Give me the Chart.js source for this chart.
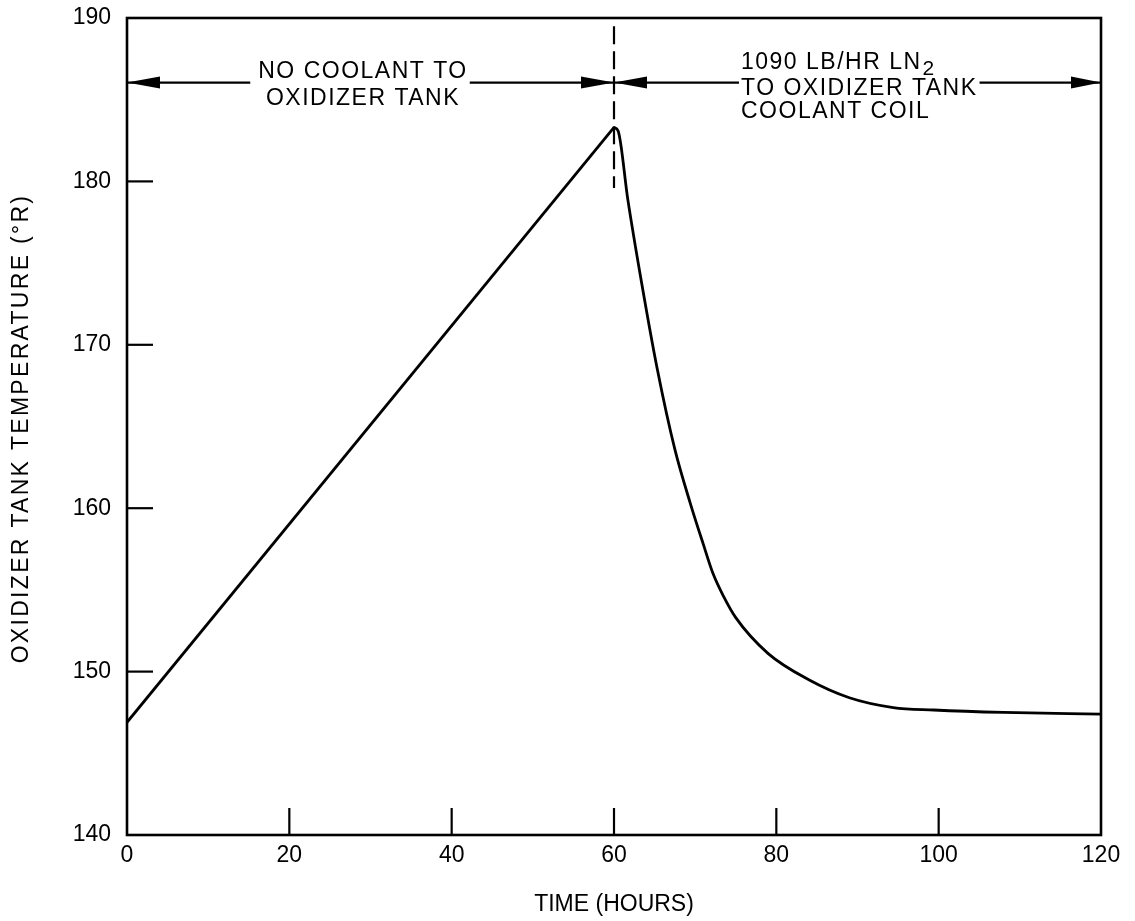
<!DOCTYPE html>
<html>
<head>
<meta charset="utf-8">
<script src="https://cdn.jsdelivr.net/npm/chart.js@4/dist/chart.umd.min.js"></script>
<style>
  html, body { margin: 0; padding: 0; background: #fff; }
  #wrap { width: 1135px; height: 921px; position: relative; }
</style>
</head>
<body>
<div id="wrap"><canvas id="c"></canvas></div>
<script>
// ---- data ----
const riseHours = [0, 60];
const riseTemps = [146.9, 183.3];
const coolHours = [60, 60.5, 61.7, 63.4, 65.3, 67.5, 69.4, 71.0, 72.2, 73.5, 75, 79, 84, 89, 94.4, 99.4, 108, 120];
const coolTemps = [183.3, 183.1, 178.9, 173.8, 168.6, 163.6, 160.3, 157.8, 156.0, 154.6, 153.3, 151.1, 149.5, 148.4, 147.8, 147.65, 147.5, 147.4];
const markerHour = 60;
const markerTemps = [189.5, 179.6];
const arrowTemp = 186.05;
const xTicks = [0, 20, 40, 60, 80, 100, 120];
const yTicks = [140, 150, 160, 170, 180, 190];
const leftNote = ["NO COOLANT TO", "OXIDIZER TANK"];
const rightNote = ["1090 LB/HR LN", "TO OXIDIZER TANK", "COOLANT COIL"];
const rightSub = "2";
const xTitle = "TIME (HOURS)";
const yTitle = "OXIDIZER TANK TEMPERATURE (°R)";

const FONT = "'Liberation Sans', Arial, sans-serif";

const toPts = (xs, ys) => xs.map((x, i) => ({ x: x, y: ys[i] }));

const annot = {
  id: 'annot',
  afterDraw(chart) {
    const { ctx, scales: { x, y }, chartArea: a } = chart;
    ctx.save();
    // border box
    ctx.strokeStyle = '#000';
    ctx.lineWidth = 2.6;
    ctx.strokeRect(a.left, a.top, a.right - a.left, a.bottom - a.top);
    // inward ticks
    ctx.lineWidth = 2.2;
    xTicks.forEach(v => {
      if (v === xTicks[0] || v === xTicks[xTicks.length - 1]) return;
      const px = x.getPixelForValue(v);
      ctx.beginPath(); ctx.moveTo(px, a.bottom); ctx.lineTo(px, a.bottom - 27); ctx.stroke();
    });
    yTicks.forEach(v => {
      if (v === yTicks[0] || v === yTicks[yTicks.length - 1]) return;
      const py = y.getPixelForValue(v);
      ctx.beginPath(); ctx.moveTo(a.left, py); ctx.lineTo(a.left + 26, py); ctx.stroke();
    });

    // y axis title
    ctx.fillStyle = '#000';
    ctx.save();
    ctx.translate(22, (a.top + a.bottom) / 2 + 2);
    ctx.rotate(-Math.PI / 2);
    ctx.font = `23px ${FONT}`;
    ctx.letterSpacing = '2.3px';
    ctx.textAlign = 'center';
    ctx.textBaseline = 'middle';
    ctx.fillText(yTitle, 0, 0);
    ctx.restore();

    // arrows
    const ay = y.getPixelForValue(arrowTemp);
    const x0 = x.getPixelForValue(xTicks[0]);
    const xm = x.getPixelForValue(markerHour);
    const x1 = x.getPixelForValue(xTicks[xTicks.length - 1]);
    const head = (tipX, dir, len) => {
      ctx.beginPath();
      ctx.moveTo(tipX, ay);
      ctx.lineTo(tipX + dir * len, ay - 6);
      ctx.lineTo(tipX + dir * len, ay + 6);
      ctx.closePath();
      ctx.fill();
    };
    ctx.lineWidth = 2.2;
    ctx.font = `23px ${FONT}`;
    ctx.letterSpacing = '1.5px';
    ctx.textBaseline = 'middle';

    // left note
    ctx.textAlign = 'left';
    const lw0 = ctx.measureText(leftNote[0]).width;
    const lw1 = ctx.measureText(leftNote[1]).width;
    const lcx = 363;
    ctx.fillText(leftNote[0], lcx - lw0 / 2, ay - 11);
    ctx.fillText(leftNote[1], lcx - lw1 / 2, ay + 16);
    const lw = Math.max(lw0, lw1);
    ctx.beginPath(); ctx.moveTo(x0, ay); ctx.lineTo(lcx - lw / 2 - 8, ay); ctx.stroke();
    ctx.beginPath(); ctx.moveTo(lcx + lw / 2 + 2, ay); ctx.lineTo(xm, ay); ctx.stroke();
    head(x0, 1, 33);
    head(xm, -1, 33);

    // right note
    const rx = 741;
    ctx.fillText(rightNote[0], rx, ay - 20);
    const w0 = ctx.measureText(rightNote[0]).width;
    ctx.font = `21px ${FONT}`;
    ctx.fillText(rightSub, rx + w0 + 1, ay - 13);
    ctx.font = `23px ${FONT}`;
    ctx.fillText(rightNote[1], rx, ay + 6);
    ctx.fillText(rightNote[2], rx, ay + 29);
    const rw = ctx.measureText(rightNote[1]).width;
    ctx.beginPath(); ctx.moveTo(xm, ay); ctx.lineTo(rx - 2, ay); ctx.stroke();
    ctx.beginPath(); ctx.moveTo(rx + rw + 2, ay); ctx.lineTo(x1, ay); ctx.stroke();
    head(xm, 1, 33);
    head(x1, -1, 30);
    ctx.restore();
  }
};

new Chart(document.getElementById('c'), {
  type: 'line',
  data: {
    datasets: [
      { data: toPts(riseHours, riseTemps), borderColor: '#000', borderWidth: 2.8, pointRadius: 0, tension: 0, fill: false },
      { data: toPts(coolHours, coolTemps), borderColor: '#000', borderWidth: 2.8, pointRadius: 0, cubicInterpolationMode: 'monotone', fill: false },
      { data: toPts([markerHour, markerHour], markerTemps), borderColor: '#000', borderWidth: 2.2, borderDash: [18, 7], pointRadius: 0, tension: 0, fill: false }
    ]
  },
  options: {
    responsive: true,
    maintainAspectRatio: false,
    animation: false,
    layout: { padding: { top: 18, right: 34, left: 0, bottom: 0 } },
    plugins: { legend: { display: false }, tooltip: { enabled: false } },
    scales: {
      x: {
        type: 'linear', min: 0, max: 120,
        afterBuildTicks: s => { s.ticks = xTicks.map(v => ({ value: v })); },
        afterFit: s => { s.height = 86; s.paddingLeft = 0; s.paddingRight = 0; },
        grid: { display: false, drawTicks: false },
        border: { display: false },
        ticks: { color: '#000', padding: 7, font: { family: FONT, size: 23 }, maxRotation: 0 },
        title: { display: true, text: xTitle, color: '#000', font: { family: FONT, size: 23 }, padding: { top: 0, bottom: 3 } }
      },
      y: {
        type: 'linear', min: 140, max: 190,
        afterBuildTicks: s => { s.ticks = yTicks.map(v => ({ value: v })); },
        afterFit: s => { s.width = 127; s.paddingTop = 0; s.paddingBottom = 0; },
        grid: { display: false, drawTicks: false },
        border: { display: false },
        ticks: { color: '#000', padding: 16, font: { family: FONT, size: 23 } },
        title: { display: false }
      }
    }
  },
  plugins: [annot]
});
</script>
</body>
</html>
